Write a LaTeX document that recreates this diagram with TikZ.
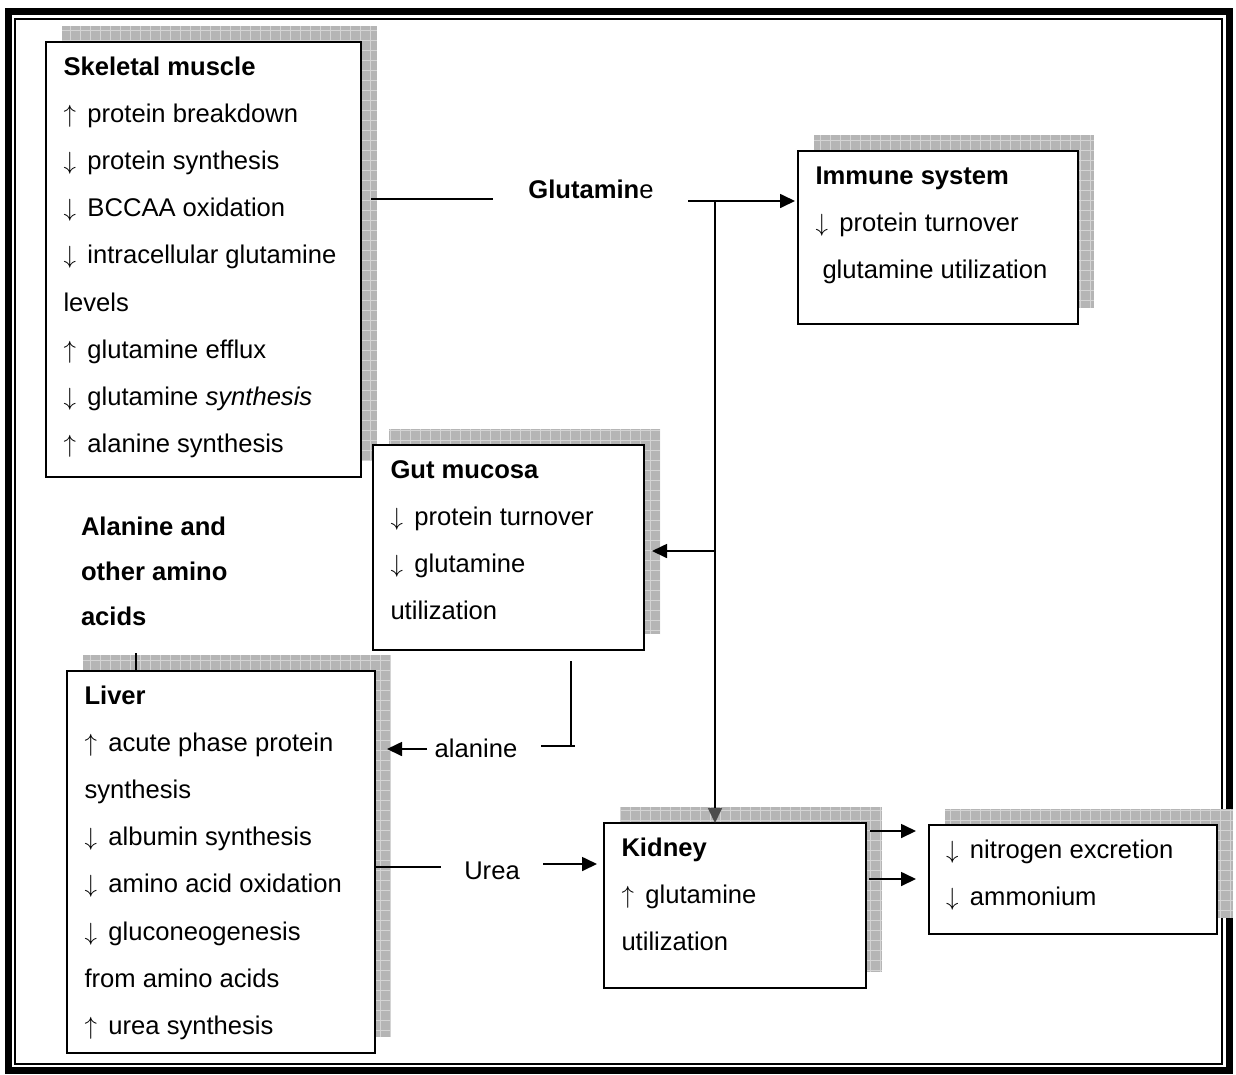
\documentclass[tikz,border=0pt]{standalone}
\usepackage{fontspec}
\setmainfont{Liberation Sans}
\usetikzlibrary{arrows.meta,calc,backgrounds}

\newcommand\arrUp{$\uparrow$\hspace{0.45em}}
\newcommand\arrDn{$\downarrow$\hspace{0.45em}}

\begin{document}
\begin{tikzpicture}[x=1pt,y=-1pt,
  box/.style={draw, line width=2pt, fill=white, inner sep=0pt, outer sep=0pt, anchor=north west},
  body/.style={anchor=north west, inner sep=0pt, outer sep=0pt, align=left,
               font=\fontsize{25.6}{47.2}\selectfont},
  lbl/.style={inner sep=0pt, outer sep=0pt, font=\fontsize{25.6}{47.2}\selectfont},
  conn/.style={line width=1.7pt},
  arr/.style={conn, -{Triangle[length=15pt,width=14pt]}},
  shadowfill/.style={fill=black!29,
    path picture={\draw[black!17, line width=0.6pt, step=10pt]
      (path picture bounding box.south west) grid (path picture bounding box.north east);}},
]
\useasboundingbox (0,0) rectangle (1236,1074);

% boxes
\node[box, minimum width=315pt, minimum height=435pt] (sk)  at (46,42)   {};
\node[box, minimum width=280pt, minimum height=173pt] (imm) at (798,151) {};
\node[box, minimum width=271pt, minimum height=205pt] (gut) at (373,445) {};
\node[box, minimum width=308pt, minimum height=382pt] (liv) at (67,671)  {};
\node[box, minimum width=262pt, minimum height=165pt] (kid) at (604,823) {};
\node[box, minimum width=288pt, minimum height=109pt] (nit) at (929,825) {};

% page, frame and drop shadows behind the boxes
\begin{scope}[on background layer]
  \fill[white] (0,0) rectangle (1236,1074);
  \draw[line width=7pt] (8.5,11.5) rectangle (1229.5,1070.5);
  \draw[line width=1.5pt] (15,19) rectangle (1222,1064);
  \foreach \n in {sk,imm,gut,liv,kid,nit}
    \path[shadowfill] ($(\n.south west)+(16,-16)$) rectangle ($(\n.north east)+(16,-16)$);
\end{scope}

% box contents
\node[body] (skt) at ($(sk.north west)+(17.5,0)$) {\strut\textbf{Skeletal muscle}\\
  \arrUp protein breakdown\\
  \arrDn protein synthesis\\
  \arrDn BCCAA oxidation\\
  \arrDn intracellular glutamine\\
  levels\\
  \arrUp glutamine efflux\\
  \arrDn glutamine \textit{synthesis}\\
  \arrUp alanine synthesis};
\node[body] (immt) at ($(imm.north west)+(17.5,0)$) {\strut\textbf{Immune system}\\
  \arrDn protein turnover\\
  \hspace{7pt}glutamine utilization};
\node[body] (gutt) at ($(gut.north west)+(17.5,0)$) {\strut\textbf{Gut mucosa}\\
  \arrDn protein turnover\\
  \arrDn glutamine\\
  utilization};
\node[body] (livt) at ($(liv.north west)+(17.5,0)$) {\strut\textbf{Liver}\\
  \arrUp acute phase protein\\
  synthesis\\
  \arrDn albumin synthesis\\
  \arrDn amino acid oxidation\\
  \arrDn gluconeogenesis\\
  from amino acids\\
  \arrUp urea synthesis};
\node[body] (kidt) at ($(kid.north west)+(17.5,0)$) {\strut\textbf{Kidney}\\
  \arrUp glutamine\\
  utilization};
\node[body] (nitt) at ($(nit.north west)+(17,0)$) {\strut\arrDn nitrogen excretion\\
  \arrDn ammonium};

% free labels
\node[lbl, anchor=base] (glu) at (591,198) {\textbf{Glutamin}e};
\node[body, font=\bfseries\fontsize{25.6}{45}\selectfont] (aa) at (81,503.5)
  {\strut Alanine and\\ other amino\\ acids};
\node[lbl, anchor=base] (ala) at (476,757) {alanine};
\node[lbl, anchor=base] (urea) at (492,879) {Urea};

% connector end points
\coordinate (s1) at (493,199);
\coordinate (g1) at (688,201);
\coordinate (j1) at (715,201);
\coordinate (j2) at (715,551);
\coordinate (a1) at (571,661);
\coordinate (a2) at (571,746);
\coordinate (a3) at (541,746);
\coordinate (a4) at (575,746);
\coordinate (al) at (427,749);
\coordinate (t1) at (136,653);
\coordinate (u1) at (441,867);
\coordinate (u2) at (543,864);
\coordinate (k1) at (870,831);
\coordinate (k2) at (869,879);

% connectors
\draw[conn] ([xshift=10pt]sk.east |- s1) -- (s1);
\draw[arr] (g1) -- ([xshift=-3pt]imm.west |- g1);
\draw[conn, -{Triangle[length=15pt,width=14pt,color=black!70]}] (j1) -- (j1 |- kid.north);
\draw[arr] (j2) -- ([xshift=8pt]gut.east |- j2);
\draw[conn] (a1) -- (a2);
\draw[conn] (a3) -- (a4);
\draw[arr] (al) -- ([xshift=12pt]liv.east |- al);
\draw[conn] (t1) -- (t1 |- liv.north);
\draw[conn] (liv.east |- u1) -- (u1);
\draw[arr] (u2) -- ([xshift=-7pt]kid.west |- u2);
\draw[arr] (k1) -- ([xshift=-13pt]nit.west |- k1);
\draw[arr] (k2) -- ([xshift=-13pt]nit.west |- k2);
\end{tikzpicture}
\end{document}
